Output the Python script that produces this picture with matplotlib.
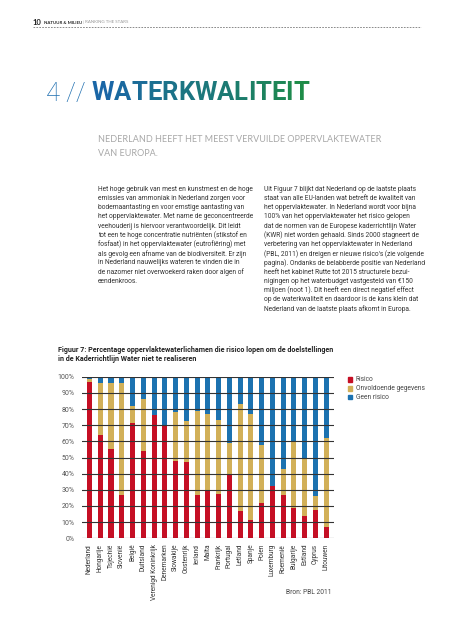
import numpy as np
import matplotlib
matplotlib.use("Agg")
import matplotlib.pyplot as plt
from matplotlib.lines import Line2D
from matplotlib.patches import Rectangle

W, H = 453, 640

# -------- data --------
landen = ["Nederland", "Hongarije", "Tsjechië", "Slovenië", "België", "Duitsland",
          "Verenigd Koninkrijk", "Denemarken", "Slowakije", "Oostenrijk", "Ierland",
          "Malta", "Frankrijk", "Portugal", "Letland", "Spanje", "Polen", "Luxemburg",
          "Roemenië", "Bulgarije", "Estland", "Cyprus", "Litouwen"]
risico = [97, 64, 55, 27, 71.5, 54, 76, 70, 48, 47.5, 27, 30, 27.5, 40, 17,
          11.5, 22, 32.5, 27, 18.5, 14, 17.5, 7]
onvoldoende = [1.5, 32, 41, 69, 10.5, 32, 0, 0, 30, 25, 52, 47, 46, 19, 66,
               65.5, 36, 0, 16, 41.5, 36, 8.5, 55]
geen_risico = [1.5, 4, 4, 4, 18, 14, 24, 30, 22, 27.5, 21, 23, 26.5, 41, 17,
               23, 42, 67.5, 57, 40, 50, 74, 38]
yticks = list(range(0, 101, 10))
legend_labels = ["Risico", "Onvoldoende gegevens", "Geen risico"]

RED = "#c50f24"
GOLD = "#d2b058"
BLUE = "#1c72b0"

body_left = [
    "Het hoge gebruik van mest en kunstmest en de hoge",
    "emissies van ammoniak in Nederland zorgen voor",
    "bodemaantasting en voor ernstige aantasting van",
    "het oppervlaktewater. Met name de geconcentreerde",
    "veehouderij is hiervoor verantwoordelijk. Dit leidt",
    "tot een te hoge concentratie nutriënten (stikstof en",
    "fosfaat) in het oppervlaktewater (eutrofiëring) met",
    "als gevolg een afname van de biodiversiteit. Er zijn",
    "in Nederland nauwelijks wateren te vinden die in",
    "de nazomer niet overwoekerd raken door algen of",
    "eendenkroos.",
]
body_right = [
    "Uit Figuur 7 blijkt dat Nederland op de laatste plaats",
    "staat van alle EU-landen wat betreft de kwaliteit van",
    "het oppervlaktewater. In Nederland wordt voor bijna",
    "100% van het oppervlaktewater het risico gelopen",
    "dat de normen van de Europese kaderrichtlijn Water",
    "(KWR) niet worden gehaald. Sinds 2000 stagneert de",
    "verbetering van het oppervlaktewater in Nederland",
    "(PBL, 2011) en dreigen er nieuwe risico's (zie volgende",
    "pagina). Ondanks de belabberde positie van Nederland",
    "heeft het kabinet Rutte tot 2015 structurele bezui-",
    "nigingen op het waterbudget vastgesteld van €150",
    "miljoen (noot 1). Dit heeft een direct negatief effect",
    "op de waterkwaliteit en daardoor is de kans klein dat",
    "Nederland van de laatste plaats afkomt in Europa.",
]

plt.rcParams['font.family'] = ['Roboto', 'DejaVu Sans']

fig = plt.figure(figsize=(W / 100, H / 100), dpi=100)
fig.patch.set_facecolor("white")
renderer = fig.canvas.get_renderer()


def fx(x):
    return x / W


def fy(y):
    return 1 - y / H


def fit_size(s, width, **kw):
    # font size that makes s about `width` pixels wide
    probe = fig.text(0, 0, s, fontsize=20, **kw)
    w = probe.get_window_extent(renderer).width
    probe.remove()
    return 20 * width / w


# -------- header --------
t = fig.text(fx(33), fy(22.5), "10", fontsize=5.5, fontweight="bold", color="#222222",
             va="center", family=["Lato", "DejaVu Sans"])
x = 33 + t.get_window_extent(renderer).width + 2
t = fig.text(fx(x), fy(22.5), "NATUUR & MILIEU", fontsize=3.2, fontweight="bold",
             color="#222222", va="center", family=["Lato", "DejaVu Sans"])
x += t.get_window_extent(renderer).width + 1
fig.text(fx(x), fy(22.5), "| RANKING THE STARS", fontsize=3.2, color="#999999",
         va="center", family=["Lato", "DejaVu Sans"])
fig.add_artist(Line2D([fx(33), fx(421)], [fy(27.3), fy(27.3)], color="#777777",
                      lw=0.6, ls=(0, (2, 1.5))))

# -------- title with gradient --------
word = "WATERKWALITEIT"
tkw = dict(fontweight="bold", family=["Liberation Sans Narrow", "Roboto", "DejaVu Sans"])
tsize = fit_size(word, 217, **tkw)
fig.text(fx(46), fy(100.5), "4 //", fontsize=tsize, color="#1f6fb0", va="baseline",
         fontweight="light", family=["Liberation Sans Narrow", "Roboto", "DejaVu Sans"])
x = 91.5
c0 = np.array([0x1a, 0x66, 0xa6]) / 255
c1 = np.array([0x1e, 0x8c, 0x48]) / 255
for i, ch in enumerate(word):
    f = i / (len(word) - 1)
    col = c0 * (1 - f) + c1 * f
    t = fig.text(fx(x), fy(100.5), ch, fontsize=tsize, color=col, va="baseline", **tkw)
    x += t.get_window_extent(renderer).width

fig.text(fx(98), fy(140), "NEDERLAND HEEFT HET MEEST VERVUILDE OPPERVLAKTEWATER",
         fontsize=6.5, color="#a8a8a8", va="center", family=["Lato", "DejaVu Sans"])
fig.text(fx(98), fy(154), "VAN EUROPA.", fontsize=6.5, color="#a8a8a8", va="center",
         family=["Lato", "DejaVu Sans"])

# -------- body text --------
for i, line in enumerate(body_left):
    fig.text(fx(98), fy(189.3 + i * 9.2), line, fontsize=4.8, color="#333333", va="center")
for i, line in enumerate(body_right):
    fig.text(fx(264), fy(189.3 + i * 9.2), line, fontsize=4.8, color="#333333", va="center")

# -------- figure caption --------
fig.text(fx(58), fy(350), "Figuur 7: Percentage oppervlaktewaterlichamen die risico lopen om de doelstellingen",
         fontsize=5.1, fontweight="bold", color="#222222", va="center")
fig.text(fx(58), fy(359), "in de Kaderrichtlijn Water niet te realiseren",
         fontsize=5.1, fontweight="bold", color="#222222", va="center")

# -------- chart --------
ax = fig.add_axes([fx(81.7), fy(538.3), (334 - 81.7) / W, (538.3 - 376.7) / H])
xpos = np.arange(len(landen))
r = np.array(risico)
o = np.array(onvoldoende)
g = np.array(geen_risico)
bw = 0.47
ax.bar(xpos, r, width=bw, color=RED, zorder=1)
ax.bar(xpos, o, width=bw, bottom=r, color=GOLD, zorder=1)
ax.bar(xpos, g, width=bw, bottom=r + o, color=BLUE, zorder=1)
for yv in yticks:
    ax.axhline(yv, color="#333333", lw=0.8, zorder=3)
ax.set_xlim(-0.72, len(landen) - 0.28)
ax.set_ylim(0, 100)
ax.set_yticks(yticks)
ax.set_yticklabels([f"{v}%" for v in yticks], fontsize=5.0, color="#555555")
ax.set_xticks(xpos)
ax.set_xticklabels(landen, rotation=90, fontsize=4.7, color="#333333", va="top", ha="center")
ax.tick_params(length=0, pad=4)
ax.tick_params(axis="y", pad=5)
for s in ax.spines.values():
    s.set_visible(False)

# legend
for i, (lab, col) in enumerate(zip(legend_labels, [RED, GOLD, BLUE])):
    yy = 379.3 + i * 8.9
    fig.add_artist(Rectangle((fx(347.5), fy(yy + 2.3)), 4.6 / W, 4.6 / H, color=col,
                             transform=fig.transFigure))
    fig.text(fx(356), fy(yy), lab, fontsize=4.8, color="#444444", va="center")

fig.text(fx(332), fy(592.3), "Bron: PBL 2011", fontsize=4.8, color="#444444",
         va="center", ha="right")

fig.savefig("out.png", dpi=100, facecolor="white")
